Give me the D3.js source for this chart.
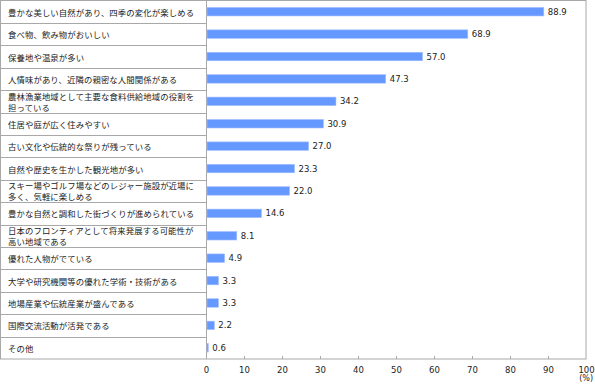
<!DOCTYPE html>
<html>
<head>
<meta charset="utf-8">
<script src="https://cdn.jsdelivr.net/npm/d3@7"></script>
<style>
  body { margin: 0; background: #fff; }
  svg { display: block; }
</style>
</head>
<body>
<div id="chart"></div>
<script>
// categories (line breaks where the label wraps)
const categories = [
  ['豊かな美しい自然があり、四季の変化が楽しめる'],
  ['食べ物、飲み物がおいしい'],
  ['保養地や温泉が多い'],
  ['人情味があり、近隣の親密な人間関係がある'],
  ['農林漁業地域として主要な食料供給地域の役割を', '担っている'],
  ['住居や庭が広く住みやすい'],
  ['古い文化や伝統的な祭りが残っている'],
  ['自然や歴史を生かした観光地が多い'],
  ['スキー場やゴルフ場などのレジャー施設が近場に', '多く、気軽に楽しめる'],
  ['豊かな自然と調和した街づくりが進められている'],
  ['日本のフロンティアとして将来発展する可能性が', '高い地域である'],
  ['優れた人物がでている'],
  ['大学や研究機関等の優れた学術・技術がある'],
  ['地場産業や伝統産業が盛んである'],
  ['国際交流活動が活発である'],
  ['その他']
];
const values = [88.9, 68.9, 57.0, 47.3, 34.2, 30.9, 27.0, 23.3, 22.0, 14.6, 8.1, 4.9, 3.3, 3.3, 2.2, 0.6];
const ticks = [0, 10, 20, 30, 40, 50, 60, 70, 80, 90, 100];
const unitLabel = '(%)';

const outerWidth = 595;
const outerHeight = 384;
const plotLeft = 206, plotRight = 586, plotTop = 0.5, plotBottom = 359;

const svg = d3.select('#chart')
  .append('svg')
  .attr('width', outerWidth)
  .attr('height', outerHeight);

const x = d3.scaleLinear().domain([0, 100]).range([plotLeft, plotRight]);
const y = d3.scaleBand()
  .domain(d3.range(categories.length))
  .range([plotTop, plotBottom])
  .paddingInner(0.62)
  .paddingOuter(0.31);

const rowStep = (plotBottom - plotTop) / categories.length;
const lineColor = '#a8a8a8';
const jpFont = '"Noto Sans CJK JP", sans-serif';

// row separators in label column
svg.append('g')
  .selectAll('line')
  .data(d3.range(1, categories.length))
  .join('line')
  .attr('x1', 0.5)
  .attr('x2', plotLeft + 1)
  .attr('y1', i => Math.round(plotTop + i * rowStep) + 0.5)
  .attr('y2', i => Math.round(plotTop + i * rowStep) + 0.5)
  .attr('stroke', lineColor);

// frame
svg.append('rect')
  .attr('x', 0.5)
  .attr('y', plotTop)
  .attr('width', plotRight - 0.5)
  .attr('height', plotBottom - plotTop)
  .attr('fill', 'none')
  .attr('stroke', lineColor);

// value axis line
svg.append('line')
  .attr('x1', plotLeft + 0.5).attr('x2', plotLeft + 0.5)
  .attr('y1', plotTop).attr('y2', plotBottom)
  .attr('stroke', lineColor);

// category labels
const labels = svg.append('g')
  .attr('font-family', jpFont)
  .attr('font-size', '8.4px')
  .attr('letter-spacing', '0.1px')
  .attr('fill', '#222');

categories.forEach((lines, i) => {
  const cy = y(i) + y.bandwidth() / 2;
  const t = labels.append('text')
    .attr('x', 8)
    .attr('y', cy - (lines.length - 1) * 5.5)
    .attr('dominant-baseline', 'central');
  lines.forEach((s, j) => {
    t.append('tspan').attr('x', 8).attr('dy', j === 0 ? 0 : 11).text(s);
  });
});

// bars
svg.append('g')
  .selectAll('rect')
  .data(values)
  .join('rect')
  .attr('x', x(0) + 1)
  .attr('y', (d, i) => y(i))
  .attr('width', d => Math.max(1, x(d) - x(0) - 1))
  .attr('height', y.bandwidth())
  .attr('fill', '#6699ff')
  .attr('stroke', '#a4c0ff')
  .attr('stroke-width', 0.6);

// value labels
svg.append('g')
  .attr('font-family', 'Verdana, "DejaVu Sans", sans-serif')
  .attr('font-size', '8.5px')
  .attr('fill', '#222')
  .selectAll('text')
  .data(values)
  .join('text')
  .attr('x', d => x(d) + 4)
  .attr('y', (d, i) => y(i) + y.bandwidth() / 2)
  .attr('dominant-baseline', 'central')
  .text(d => d.toFixed(1));

// x axis
const xAxis = d3.axisBottom(x)
  .tickValues(ticks)
  .tickSize(0)
  .tickPadding(8);

const gx = svg.append('g')
  .attr('transform', `translate(0,${plotBottom})`)
  .call(xAxis);
gx.select('.domain').remove();
gx.selectAll('text')
  .attr('font-family', 'Verdana, "DejaVu Sans", sans-serif')
  .attr('font-size', '8.5px')
  .attr('fill', '#222');

// inner tick marks
svg.append('g')
  .selectAll('line')
  .data(ticks.slice(1, -1))
  .join('line')
  .attr('x1', d => Math.round(x(d)) + 0.5)
  .attr('x2', d => Math.round(x(d)) + 0.5)
  .attr('y1', plotBottom - 3)
  .attr('y2', plotBottom)
  .attr('stroke', lineColor);

svg.append('text')
  .attr('x', 593)
  .attr('y', 378.5)
  .attr('text-anchor', 'end')
  .attr('dominant-baseline', 'central')
  .attr('font-family', 'Verdana, "DejaVu Sans", sans-serif')
  .attr('font-size', '8px')
  .attr('fill', '#222')
  .text(unitLabel);
</script>
</body>
</html>
